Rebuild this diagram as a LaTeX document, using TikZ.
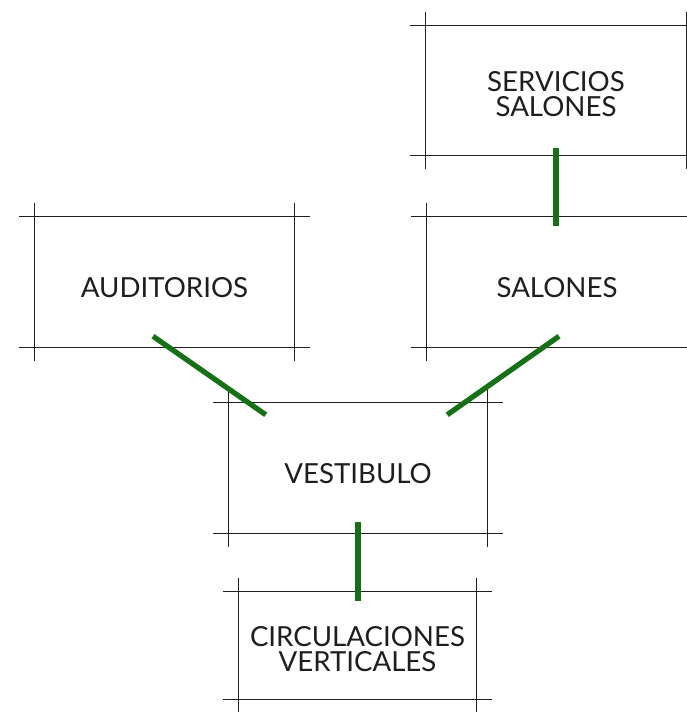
\documentclass[tikz,border=0pt]{standalone}
\usepackage{fontspec}
\setmainfont{Lato}
\usepackage{tikz}

\definecolor{linkgreen}{RGB}{22,112,22}
\definecolor{wallgray}{RGB}{30,30,30}

\tikzset{
    room/.style={minimum width=#1, inner sep=0pt, align=center, text height=26pt,
        font=\fontsize{23.6}{21.6}\selectfont, text=wallgray},
    tworow/.style={text height=44.5pt},
    wall/.style={line width=1.2pt, wallgray},
    link/.style={line width=4.5pt, linkgreen}
}

\begin{document}
\begin{tikzpicture}
    \useasboundingbox (0,0) rectangle (20.61,-21.36);

    % Rooms
    \node[room=7.8cm, tworow, minimum height=3.87cm] (serv) at (16.68,-2.715) {SERVICIOS\\SALONES};
    \node[room=7.8cm, minimum height=3.9cm] (sal) at (16.71,-8.46) {SALONES};
    \node[room=7.77cm, minimum height=3.9cm] (aud) at (4.935,-8.46) {AUDITORIOS};
    \node[room=7.74cm, minimum height=3.9cm] (vest) at (10.74,-14.04) {VESTIBULO};
    \node[room=7.11cm, tworow, minimum height=3.21cm] (circ) at (10.725,-19.365) {CIRCULACIONES\\VERTICALES};

    % Sketch lines round each room
    \foreach \r in {serv,sal,aud,vest,circ} {
        \draw[wall] ([xshift=-0.48cm]\r.north west) -- ([xshift=0.48cm]\r.north east);
        \draw[wall] ([xshift=-0.48cm]\r.south west) -- ([xshift=0.48cm]\r.south east);
        \draw[wall] ([yshift=0.42cm]\r.north west) -- ([yshift=-0.42cm]\r.south west);
        \draw[wall] ([yshift=0.42cm]\r.north east) -- ([yshift=-0.42cm]\r.south east);
    }

    % Links
    \draw[link, shorten <=-0.21cm, shorten >=-0.27cm] (serv.south) -- (serv.south |- sal.north);
    \draw[link] ([shift={(-0.345,0.33)}]aud.south) -- ([shift={(1.11,-0.36)}]vest.north west);
    \draw[link] ([shift={(0.06,0.33)}]sal.south) -- ([shift={(-1.2,-0.36)}]vest.north east);
    \draw[link, shorten <=-0.33cm, shorten >=-0.27cm] (vest.south) -- (vest.south |- circ.north);
\end{tikzpicture}
\end{document}
